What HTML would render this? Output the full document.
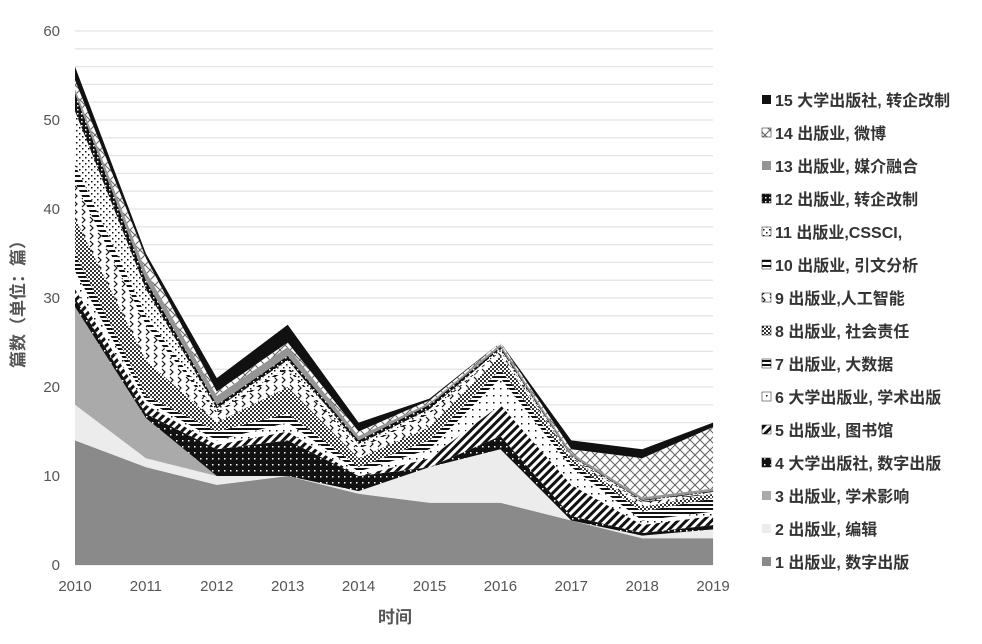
<!DOCTYPE html>
<html><head><meta charset="utf-8"><style>
body{margin:0;background:#fff;}
svg{font-family:"Liberation Sans","Noto Sans CJK SC",sans-serif;}
</style></head><body>
<svg id="s" width="982" height="639" xmlns="http://www.w3.org/2000/svg">
<defs>
<pattern id="p4" width="6" height="6" patternUnits="userSpaceOnUse"><rect width="6" height="6" fill="#111"/><rect x="2" y="2" width="1.5" height="1.5" fill="#fff"/></pattern>
<pattern id="p5" width="6" height="6" patternUnits="userSpaceOnUse" patternTransform="rotate(45)"><rect width="6" height="6" fill="#fff"/><rect width="3" height="6" fill="#111"/></pattern>
<pattern id="p6" width="7" height="7" patternUnits="userSpaceOnUse"><rect width="7" height="7" fill="#fff"/><rect x="3" y="3" width="1.5" height="1.5" fill="#111"/></pattern>
<pattern id="p7" width="4" height="4" patternUnits="userSpaceOnUse"><rect width="4" height="4" fill="#fff"/><rect width="4" height="2" fill="#111"/></pattern>
<pattern id="p8" width="4" height="4" patternUnits="userSpaceOnUse"><rect width="4" height="4" fill="#fff"/><rect width="2" height="2" fill="#333"/><rect x="2" y="2" width="2" height="2" fill="#333"/></pattern>
<pattern id="p9" width="8" height="8" patternUnits="userSpaceOnUse"><rect width="8" height="8" fill="#fff"/><path d="M2 1 L5 4 L2 7" stroke="#111" fill="none" stroke-width="1.2"/></pattern>
<pattern id="p10" width="4" height="5" patternUnits="userSpaceOnUse"><rect width="4" height="5" fill="#fff"/><rect width="4" height="2" fill="#111"/></pattern>
<pattern id="p11" width="6" height="6" patternUnits="userSpaceOnUse"><rect width="6" height="6" fill="#fff"/><rect x="1" y="1" width="1.5" height="1.5" fill="#111"/><rect x="4" y="4" width="1.5" height="1.5" fill="#111"/></pattern>
<pattern id="p12" width="4" height="4" patternUnits="userSpaceOnUse"><rect width="4" height="4" fill="#111"/><rect x="1" y="1" width="1.5" height="1.5" fill="#fff"/></pattern>
<pattern id="p14" width="10" height="10" patternUnits="userSpaceOnUse"><rect width="10" height="10" fill="#fff"/><path d="M0 0 L10 10 M10 0 L0 10" stroke="#666" stroke-width="1.1"/></pattern>
</defs>
<g id="grid"></g>
<g id="areas"></g>
<g id="lab" font-size="15" fill="#555"></g>
<text x="395" y="623" font-size="17" font-weight="bold" fill="#555" text-anchor="middle">时间</text>
<text transform="translate(24,300) rotate(-90)" font-size="17" font-weight="bold" fill="#555" text-anchor="middle">篇数（单位：篇）</text>
<g id="leg" font-size="16" font-weight="bold" fill="#333"></g>
</svg>
<script>
var NS="http://www.w3.org/2000/svg";
function el(p,t,a,txt){var e=document.createElementNS(NS,t);for(var k in a)e.setAttribute(k,a[k]);if(txt)e.textContent=txt;document.getElementById(p).appendChild(e);return e;}
function X(i){return 75+i*70.9;}function Y(v){return 565-v*8.9;}
for(var v=0;v<=60;v+=2){el("grid","line",{x1:75,x2:713,y1:Y(v),y2:Y(v),stroke:"#e4e4e4","stroke-width":1.3});}
for(var v=0;v<=60;v+=10){el("lab","text",{x:60,y:Y(v)+5,"text-anchor":"end"},""+v);}
for(var i=0;i<10;i++){el("lab","text",{x:X(i),y:591,"text-anchor":"middle"},""+(2010+i));}
var L=[
[14,11,9,10,8,7,7,5,3,3],
[18,12,10,10,8.3,11,13,5,3.3,4],
[29,16.5,10,10,8.3,11,13,5,3.3,4],
[30,17,13,14,10,11,14.5,5.5,3.6,4.5],
[31,18,13.5,15,10,12,18,9,4.5,5.5],
[33,18.5,14,16,10.5,13,21,11,5,6],
[35,19,15,17,11,14,22,11.5,6,7.5],
[39,23,16,20,12,15.5,23.5,12,6.5,8],
[43,27,17,22,13,17,24,12,7,8],
[45,28,17.2,22.3,13.2,17.2,24.1,12.1,7.1,8.1],
[51,31,17.6,23,13.6,17.5,24.3,12.2,7.2,8.2],
[53,32,18,23.5,14,18,24.5,12.3,7.3,8.3],
[53.5,33,19,24.5,14.5,18.2,24.8,12.6,7.6,8.6],
[54.5,34.5,19.5,25,15,18.5,25,13,12,15.5],
[56,35,21,27,16,18.7,25,14,13,16]];
var F=["#8a8a8a","#ececec","#aaaaaa","url(#p4)","url(#p5)","url(#p6)","url(#p7)","url(#p8)","url(#p9)","url(#p10)","url(#p11)","url(#p12)","#959595","url(#p14)","#111"];
for(var k=0;k<15;k++){var pts=[];for(var i=0;i<10;i++)pts.push(X(i)+","+Y(L[k][i]));for(var i=9;i>=0;i--)pts.push(X(i)+","+Y(k?L[k-1][i]:0));el("areas","polygon",{points:pts.join(" "),fill:F[k]});}
var names=["1 出版业, 数字出版","2 出版业, 编辑","3 出版业, 学术影响","4 大学出版社, 数字出版","5 出版业, 图书馆","6 大学出版业, 学术出版","7 出版业, 大数据","8 出版业, 社会责任","9 出版业,人工智能","10 出版业, 引文分析","11 出版业,CSSCI,","12 出版业, 转企改制","13 出版业, 媒介融合","14 出版业, 微博","15 大学出版社, 转企改制"];
for(var k=0;k<15;k++){var y=568-k*33;el("leg","rect",{x:762,y:y-11,width:9,height:9,fill:F[k],stroke:k>2&&k!=12&&k!=14?"#111":"none","stroke-width":0.5});el("leg","text",{x:775,y:y},names[k]);}
</script>
</body></html>
